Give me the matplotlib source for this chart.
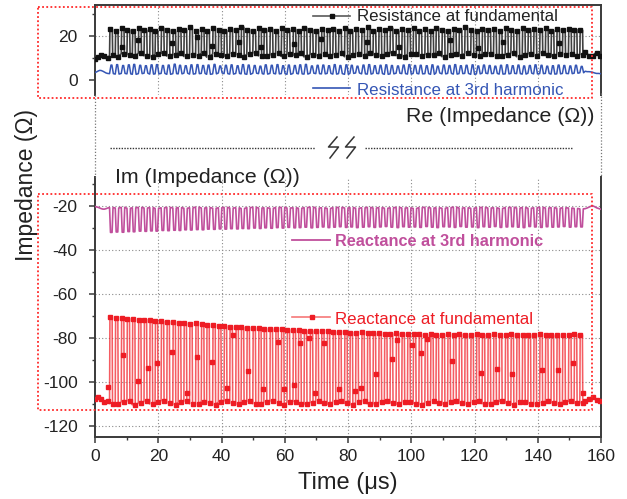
"""Broken-axis impedance trace: Re (top) and Im (bottom) vs time."""

import numpy as np
import matplotlib
matplotlib.use("Agg")
import matplotlib.pyplot as plt
from matplotlib.lines import Line2D
from matplotlib.ticker import MultipleLocator

plt.rcParams["font.family"] = ["Liberation Sans", "DejaVu Sans"]
plt.rcParams["axes.unicode_minus"] = False

W, H = 627, 499

# switching events (rising edge of each pulse), microseconds
pulse_t = [
    4.6, 6.4, 8.3, 10.1, 11.8, 13.7, 15.5, 17.3, 19.0, 20.9,
    22.7, 24.6, 26.3, 28.1, 29.9, 31.8, 33.6, 35.3, 37.2, 39.0,
    40.8, 42.6, 44.5, 46.2, 48.0, 49.9, 51.7, 53.4, 55.3, 57.1,
    58.9, 60.7, 62.6, 64.3, 66.1, 68.0, 69.8, 71.6, 73.4, 75.2,
    77.0, 78.9, 80.6, 82.4, 84.3, 86.1, 87.9, 89.7, 91.5, 93.3,
    95.2, 97.0, 98.8, 100.6, 102.4, 104.3, 106.1, 107.8, 109.7, 111.5,
    113.3, 115.1, 116.9, 118.8, 120.6, 122.4, 124.2, 126.0, 127.8, 129.7,
    131.5, 133.3, 135.1, 136.9, 138.7, 140.6, 142.4, 144.2, 146.0, 147.8,
    149.7, 151.5, 153.3,
]

# quiet stretches before the first and after the last pulse
pre_t = [0.0, 0.5, 1.0, 1.5, 2.0, 2.5, 3.0, 3.5, 4.0]
post_t = [155.0, 155.6, 156.2, 156.8, 157.4, 158.0, 158.6, 159.2, 159.8]

# --- Resistance at fundamental (ohm)
rfund_hi = [
    23.0, 22.4, 23.5, 22.8, 22.2, 23.8, 22.6, 23.1, 22.3, 23.6,
    22.9, 22.1, 23.4, 22.7, 23.9, 22.5, 23.0, 22.2, 23.7, 22.8,
    22.4, 23.3, 22.6, 24.0, 22.9, 22.3, 23.5, 22.7, 23.1, 22.2,
    23.8, 22.6, 23.0, 22.4, 23.6, 22.8, 22.1, 23.4, 22.9, 23.2,
    22.5, 23.7, 22.3, 23.0, 22.8, 23.9, 22.4, 23.2, 22.6, 23.5,
    22.2, 23.1, 22.7, 23.8, 22.5, 23.0, 22.3, 23.6, 22.9, 22.4,
    23.3, 22.6, 23.9, 22.8, 22.2, 23.4, 22.7, 23.1, 22.5, 23.7,
    22.9, 22.3, 23.5, 22.6, 23.0, 22.8, 23.6, 22.4, 23.2, 22.7,
    23.4, 22.9, 22.6,
]
rfund_lo = [
    11.2, 10.6, 12.0, 11.5, 10.8, 12.3, 11.0, 10.5, 11.8, 12.1,
    10.9, 11.4, 12.4, 10.7, 11.6, 11.1, 12.2, 10.4, 11.9, 11.3,
    10.8, 12.0, 11.5, 10.6, 11.7, 12.3, 11.0, 10.9, 11.4, 12.1,
    10.7, 11.8, 11.2, 12.4, 10.5, 11.6, 11.0, 12.0, 10.8, 11.5,
    12.2, 10.6, 11.3, 11.9, 10.9, 12.1, 11.4, 10.7, 11.7, 12.3,
    11.1, 10.5, 11.8, 12.0, 10.8, 11.6, 11.2, 12.4, 10.6, 11.4,
    11.9, 10.9, 12.2, 11.3, 10.7, 11.7, 12.0, 11.0, 10.8, 11.5,
    12.3, 10.6, 11.4, 11.9, 10.9, 12.1, 11.2, 10.7, 11.8, 11.5,
    12.0, 11.1, 11.6,
]
rfund_pre = [9.4, 9.8, 10.5, 11.2, 11.6, 11.3, 10.8, 10.2, 9.8]
rfund_post = [12.6, 12.0, 11.0, 10.4, 10.8, 12.0, 12.4, 11.6, 10.8]
rfund_glitch_t = [8.4, 13.5, 24.2, 32.1, 37.0, 45.5, 52.5, 63.0, 71.5,
                  85.9, 96.0, 112.3, 121.0, 129.0, 146.7]
rfund_glitch_v = [15.1, 18.0, 16.7, 19.4, 15.5, 17.2, 14.8, 16.4, 18.6,
                  17.4, 15.2, 18.2, 14.6, 17.4, 17.0]

# --- Resistance at 3rd harmonic (ohm)
r3_hi = [
    6.8, 7.0, 6.6, 6.9, 7.1, 6.7, 6.5, 6.9, 7.0, 6.6,
    6.8, 7.2, 6.7, 6.5, 6.9, 7.0, 6.6, 6.8, 7.1, 6.4,
    6.7, 6.9, 6.5, 7.0, 6.8, 6.6, 6.3, 6.9, 6.7, 7.0,
    6.5, 6.8, 6.6, 6.9, 7.1, 6.4, 6.7, 6.8, 6.5, 7.0,
    6.6, 6.9, 6.7, 6.3, 6.8, 7.0, 6.5, 6.7, 6.9, 6.6,
    6.4, 6.8, 7.0, 6.6, 6.7, 6.5, 6.9, 6.3, 6.8, 6.6,
    7.0, 6.5, 6.7, 6.9, 6.4, 6.8, 6.6, 6.3, 6.7, 6.9,
    6.5, 6.8, 6.4, 6.6, 6.9, 6.7, 6.3, 6.5, 6.8, 6.6,
    6.4, 6.7, 6.2,
]
r3_lo = [
    2.9, 2.7, 3.0, 2.8, 2.6, 2.9, 3.1, 2.7, 2.8, 3.0,
    2.6, 2.9, 2.8, 3.1, 2.7, 2.9, 3.0, 2.6, 2.8, 3.2,
    2.9, 2.7, 3.0, 2.8, 2.6, 3.1, 2.9, 2.7, 3.0, 2.8,
    2.9, 2.6, 3.0, 2.8, 2.7, 3.1, 2.9, 2.8, 3.0, 2.7,
    2.9, 2.6, 3.0, 3.2, 2.8, 2.7, 3.0, 2.9, 2.6, 2.8,
    3.1, 2.9, 2.7, 3.0, 2.8, 2.9, 2.6, 3.2, 2.8, 3.0,
    2.7, 2.9, 3.0, 2.6, 2.8, 3.1, 2.9, 3.0, 2.7, 2.8,
    3.0, 2.9, 2.7, 3.1, 2.8, 2.9, 3.0, 2.7, 2.8, 3.0,
    2.9, 3.1, 3.3,
]
r3_pre = [3.4, 3.7, 4.1, 4.4, 4.3, 4.0, 3.6, 3.2, 3.0]
r3_post = [4.0, 3.8, 3.8, 3.7, 3.5, 3.2, 3.0, 3.0, 2.9]

# --- Reactance at 3rd harmonic (ohm): pulses dip downwards
x3_hi = [
    -20.7, -20.9, -20.6, -21.0, -20.8, -20.6, -20.9, -20.7, -21.1, -20.8,
    -20.6, -20.9, -20.7, -21.0, -20.8, -20.5, -20.9, -20.7, -21.0, -20.8,
    -20.6, -20.9, -20.8, -21.1, -20.7, -20.6, -20.9, -20.8, -21.0, -20.7,
    -20.6, -20.9, -20.8, -21.0, -20.7, -20.5, -20.9, -20.8, -21.1, -20.7,
    -20.6, -20.9, -20.7, -21.0, -20.8, -20.6, -20.9, -20.7, -21.0, -20.8,
    -20.6, -20.9, -20.8, -21.1, -20.7, -20.6, -20.9, -20.8, -21.0, -20.7,
    -20.5, -20.9, -20.8, -21.0, -20.7, -20.6, -20.9, -20.8, -21.1, -20.7,
    -20.6, -20.9, -20.7, -21.0, -20.8, -20.6, -20.9, -20.7, -21.0, -20.8,
    -20.9, -21.1, -21.3,
]
x3_lo = [
    -32.0, -31.8, -31.9, -31.6, -31.7, -31.4, -31.5, -31.3, -31.4, -31.1,
    -31.2, -31.0, -31.1, -30.8, -30.9, -30.7, -30.8, -30.5, -30.6, -30.4,
    -30.5, -30.3, -30.4, -30.2, -30.3, -30.0, -30.2, -29.9, -30.1, -29.8,
    -30.0, -29.7, -29.9, -29.8, -29.6, -29.9, -29.7, -29.5, -29.8, -29.6,
    -29.4, -29.7, -29.5, -29.8, -29.6, -29.4, -29.7, -29.5, -29.3, -29.6,
    -29.8, -29.4, -29.6, -29.5, -29.7, -29.3, -29.6, -29.8, -29.4, -29.5,
    -29.7, -29.3, -29.6, -29.5, -29.8, -29.4, -29.6, -29.3, -29.7, -29.5,
    -29.4, -29.6, -29.8, -29.3, -29.5, -29.7, -29.4, -29.6, -29.5, -29.3,
    -29.6, -29.4, -29.5,
]
x3_pre = [-20.2, -20.4, -20.6, -20.9, -21.2, -21.4, -21.4, -21.2, -20.9]
x3_post = [-21.2, -20.9, -20.5, -20.1, -19.9, -20.3, -20.8, -21.1, -21.4]

# --- Reactance at fundamental (ohm)
xfund_hi = [
    -70.5, -70.8, -71.0, -71.2, -71.5, -71.8, -71.6, -72.0, -72.3, -72.4,
    -72.6, -72.9, -73.0, -73.2, -73.5, -73.4, -73.8, -74.0, -74.2, -74.5,
    -74.4, -74.8, -75.0, -75.1, -75.3, -75.5, -75.4, -75.8, -76.0, -76.1,
    -76.0, -76.3, -76.5, -76.4, -76.7, -76.8, -76.9, -77.0, -76.8, -77.2,
    -77.3, -77.2, -77.5, -77.6, -77.4, -77.8, -77.9, -77.7, -78.0, -78.1,
    -77.9, -78.2, -78.3, -78.1, -78.4, -78.5, -78.3, -78.6, -78.5, -78.4,
    -78.6, -78.3, -78.5, -78.7, -78.4, -78.6, -78.5, -78.3, -78.7, -78.6,
    -78.4, -78.8, -78.5, -78.6, -78.7, -78.4, -78.6, -78.8, -78.5, -78.7,
    -78.6, -78.4, -78.7,
]
xfund_lo = [
    -109.8, -110.2, -109.0, -108.6, -110.4, -109.5, -108.8, -110.0, -109.2, -108.5,
    -109.6, -110.3, -109.1, -108.7, -109.9, -110.1, -108.9, -109.4, -110.4, -109.0,
    -108.6, -109.7, -110.2, -109.3, -108.8, -109.9, -110.0, -109.1, -108.7, -109.6,
    -110.3, -109.2, -108.9, -109.8, -110.1, -109.4, -108.6, -109.5, -110.2, -109.0,
    -108.8, -109.7, -110.4, -109.3, -108.7, -109.9, -110.0, -109.2, -108.5, -109.6,
    -110.2, -109.1, -108.9, -109.8, -110.3, -109.4, -108.7, -109.5, -110.1, -109.0,
    -108.8, -109.7, -110.2, -109.3, -108.6, -109.9, -110.0, -109.1, -108.8, -109.6,
    -110.3, -109.2, -108.9, -109.8, -110.1, -109.4, -108.7, -109.5, -110.2, -109.0,
    -108.8, -109.7, -109.6,
]
xfund_pre = [-107.9, -107.3, -107.0, -107.1, -107.5, -108.2, -109.0, -109.4, -108.6]
xfund_post = [-108.6, -108.2, -107.8, -107.2, -106.6, -107.4, -108.2, -108.6, -108.8]
xfund_glitch_t = [4.2, 9.0, 13.7, 16.9, 19.7, 24.4, 29.2, 32.1, 37.1, 41.6,
                  43.7, 48.3, 53.2, 58.0, 59.9, 62.9, 64.8, 67.8, 69.6, 72.4,
                  77.3, 82.2, 84.0, 88.9, 93.8, 95.6, 100.1, 103.0, 105.1, 112.8,
                  122.2, 127.0, 131.9, 141.5, 146.5, 151.2, 154.2]
xfund_glitch_v = [-102.1, -87.7, -99.4, -93.8, -91.5, -86.5, -105.2, -88.5, -90.8, -102.9,
                  -78.6, -95.0, -103.3, -81.7, -103.3, -101.4, -82.1, -80.2, -104.8, -82.1,
                  -103.3, -104.1, -102.9, -96.4, -89.5, -80.9, -83.2, -86.7, -80.6, -90.5,
                  -95.8, -94.2, -96.4, -94.5, -94.5, -91.5, -104.8]


def fx(px):
    return px / W


def fy(py):
    return 1 - py / H


def pulse_wave(base, peak, pre_v, post_v, rise, width):
    """Step trace through the switching events; also returns marker indices."""
    t, v = list(pre_t), list(pre_v)
    marks = list(range(0, len(pre_t), 2))
    for t0, b, p in zip(pulse_t, base, peak):
        n = len(t)
        t += [t0, t0 + rise, t0 + rise + width, t0 + 2 * rise + width]
        v += [b, p, p, b]
        marks += [n + 1, n + 3]
    n = len(t)
    t += post_t
    v += post_v
    marks += list(range(n, len(t), 2))
    return np.array(t), np.array(v), marks


fig = plt.figure(figsize=(W / 100, H / 100), dpi=100)
ax_top = fig.add_axes([fx(95), fy(95), fx(601) - fx(95), fy(5) - fy(95)])
ax_bot = fig.add_axes([fx(95), fy(437), fx(601) - fx(95), fy(177) - fy(437)])

SPINE = "#3a3a3a"
GRID = dict(color="#8a8a8a", linestyle=(0, (1, 2)), linewidth=0.8)

for ax in (ax_top, ax_bot):
    ax.set_xlim(0, 160)
    for s in ax.spines.values():
        s.set_color(SPINE)
        s.set_linewidth(1.4)
    ax.xaxis.set_major_locator(MultipleLocator(20))
    ax.xaxis.set_minor_locator(MultipleLocator(10))
    ax.yaxis.set_major_locator(MultipleLocator(20))
    ax.yaxis.set_minor_locator(MultipleLocator(10))
    ax.tick_params(which="major", direction="out", length=4.5, width=1.1,
                   color=SPINE, labelsize=12.5, labelcolor="#222222")
    ax.tick_params(which="minor", direction="out", length=2.5, width=1.0, color=SPINE)
    ax.tick_params(axis="y", pad=8)
    ax.tick_params(axis="x", pad=4)
    for xv in range(20, 160, 20):
        ax.axvline(xv, zorder=0, **GRID)

ax_top.set_ylim(-6.8, 34.1)
ax_top.spines["bottom"].set_visible(False)
ax_top.tick_params(axis="x", which="both", bottom=False, labelbottom=False)
ax_top.axhline(20, zorder=0, **GRID)

ax_bot.set_ylim(-125, -6.8)
ax_bot.spines["top"].set_visible(False)
for yv in range(-120, 0, 20):
    ax_bot.axhline(yv, zorder=0, **GRID)

# data
t, v, mk = pulse_wave(rfund_lo, rfund_hi, rfund_pre, rfund_post, 0.12, 0.75)
ax_top.plot(t, v, color="#404040", lw=1.2, zorder=3)
ax_top.plot(t[mk], v[mk], ls="none", marker="s", ms=2.4,
            mfc="#111111", mec="#111111", zorder=4)
ax_top.plot(rfund_glitch_t, rfund_glitch_v, ls="none", marker="s", ms=2.4,
            mfc="#111111", mec="#111111", zorder=4)

t, v, _ = pulse_wave(r3_lo, r3_hi, r3_pre, r3_post, 0.45, 0.3)
ax_top.plot(t, v, color="#3556b5", lw=1.1, zorder=3)

t, v, _ = pulse_wave(x3_hi, x3_lo, x3_pre, x3_post, 0.3, 0.5)
ax_bot.plot(t, v, color="#c04f9c", lw=1.2, zorder=3)

t, v, mk = pulse_wave(xfund_lo, xfund_hi, xfund_pre, xfund_post, 0.12, 0.7)
ax_bot.plot(t, v, color=(0.95, 0.15, 0.18, 0.75), lw=1.15, zorder=3)
ax_bot.plot(t[mk], v[mk], ls="none", marker="s", ms=2.4,
            mfc="#ee1c24", mec="#ee1c24", zorder=4)
ax_bot.plot(xfund_glitch_t, xfund_glitch_v, ls="none", marker="s", ms=2.4,
            mfc="#ee1c24", mec="#ee1c24", zorder=4)


def fig_line(xs, ys, **kw):
    fig.add_artist(Line2D([fx(x) for x in xs], [fy(y) for y in ys],
                          transform=fig.transFigure, **kw))


# dotted spines across the break
fig_line([95, 95], [95, 177], color="#777777", lw=0.9, ls=(0, (1, 1.5)))
fig_line([601, 601], [93, 177], color="#777777", lw=0.9, ls=(0, (1, 1.5)))

# break marker
fig_line([110, 315], [148, 148], color="#333333", lw=1.0, ls=(0, (1, 1)))
fig_line([365, 572], [148, 148], color="#333333", lw=1.0, ls=(0, (1, 1)))
for dx in (0, 17):
    fig_line([337 + dx, 328.5 + dx, 338.5 + dx, 330 + dx], [137, 147, 147, 158],
             color="#333333", lw=1.1)

# red dotted boxes
for x0, y0, x1, y1 in ((38, 7, 592, 98), (38, 194, 592, 410)):
    fig_line([x0, x1, x1, x0, x0], [y0, y0, y1, y1, y0],
             color="#ff2a2a", lw=1.3, ls=(0, (1, 1.3)))

# legend-like labels
fig_line([313, 350], [16, 16], color="#5a5a5a", lw=1.2)
fig_line([332], [16], ls="none", marker="s", ms=3.5, mfc="#111111", mec="#111111")
fig.text(fx(357), fy(21), "Resistance at fundamental", fontsize=12.2,
         color="#222222", va="baseline")
fig_line([313, 350], [88, 88], color="#3556b5", lw=1.2)
fig.text(fx(357), fy(95), "Resistance at 3rd harmonic", fontsize=12.2,
         color="#3556b5", va="baseline")
fig_line([292, 330], [240, 240], color="#c04f9c", lw=1.3)
fig.text(fx(335), fy(245.5), "Reactance at 3rd harmonic", fontsize=11.7,
         fontweight="bold", color="#c04f9c", va="baseline")
fig_line([292, 330], [317, 317], color=(0.95, 0.25, 0.25, 0.7), lw=1.2)
fig_line([311.5], [317], ls="none", marker="s", ms=3.5, mfc="#ee1c24", mec="#ee1c24")
fig.text(fx(335), fy(324), "Reactance at fundamental", fontsize=12.2,
         color="#ee1c24", va="baseline")

fig.text(fx(595), fy(121.5), "Re (Impedance (\u03a9))", fontsize=15.3,
         color="#222222", ha="right", va="baseline")
fig.text(fx(115), fy(183), "Im (Impedance (\u03a9))", fontsize=15.3,
         color="#222222", ha="left", va="baseline")

fig.text(fx(348), fy(489), "Time (\u03bcs)", fontsize=17, color="#222222",
         ha="center", va="baseline")
fig.text(fx(27), fy(185), "Impedance (\u03a9)", fontsize=16.5, color="#222222",
         ha="center", va="center", rotation=90)

fig.savefig("out.png", dpi=100)
